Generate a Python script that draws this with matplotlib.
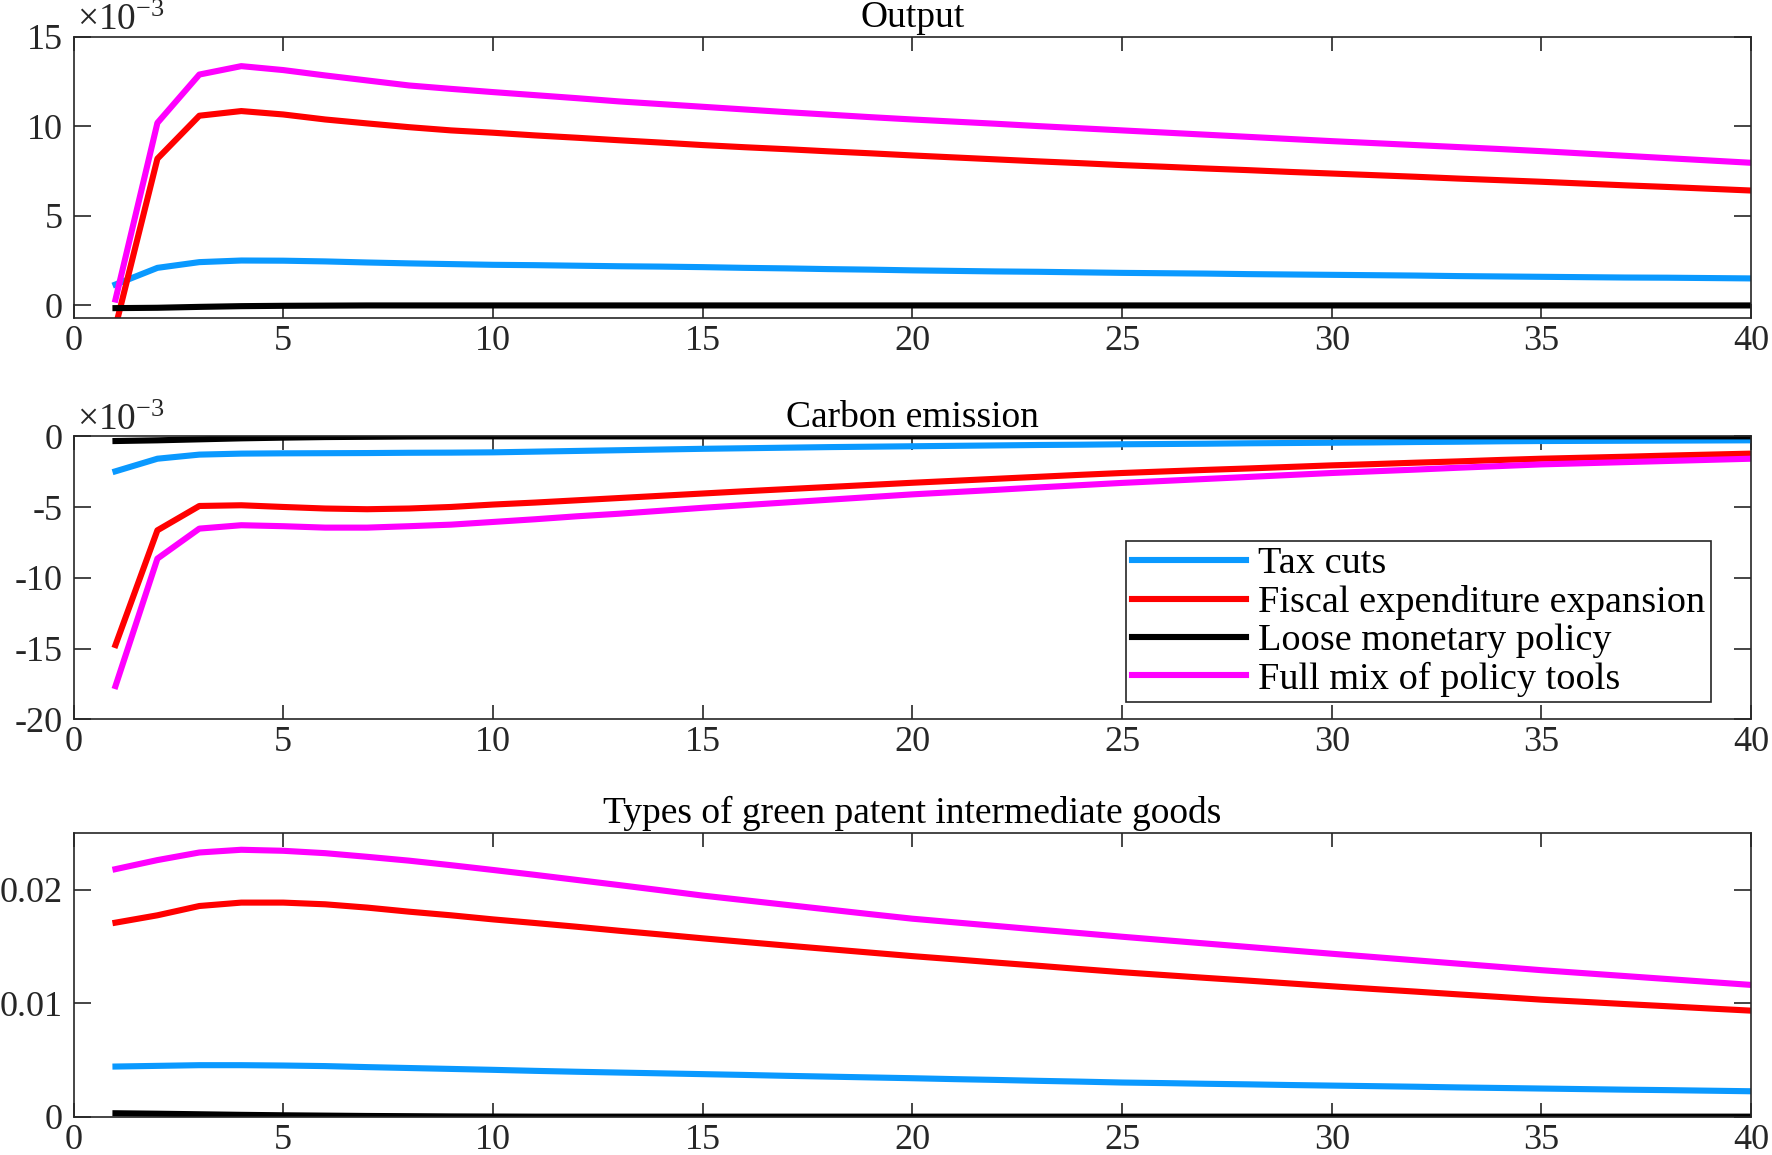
import matplotlib
matplotlib.use("Agg")
import matplotlib.pyplot as plt
import numpy as np

plt.rcParams["font.family"] = ["Liberation Serif", "DejaVu Serif"]
plt.rcParams["mathtext.fontset"] = "custom"
plt.rcParams["mathtext.rm"] = "Liberation Serif"
plt.rcParams["axes.unicode_minus"] = False

periods = list(range(1, 41))
labels = ["Tax cuts", "Fiscal expenditure expansion", "Loose monetary policy", "Full mix of policy tools"]
colors = ["#0A99FF", "#FF0000", "#000000", "#FF00FF"]

# Output (x 1e-3)
output_tax = [1.17, 2.1, 2.42, 2.51, 2.5, 2.46, 2.4, 2.35, 2.31, 2.27, 2.25, 2.22, 2.19, 2.17, 2.14,
              2.1, 2.07, 2.03, 2.0, 1.96, 1.93, 1.9, 1.88, 1.85, 1.82, 1.8, 1.78, 1.75, 1.73, 1.71,
              1.69, 1.67, 1.64, 1.62, 1.6, 1.58, 1.56, 1.55, 1.53, 1.51]
output_fiscal = [-1.2, 8.2, 10.6, 10.86, 10.67, 10.39, 10.17, 9.96, 9.78, 9.65, 9.5, 9.37, 9.23, 9.1, 8.96,
                 8.84, 8.73, 8.61, 8.5, 8.38, 8.27, 8.16, 8.05, 7.95, 7.84, 7.75, 7.65, 7.56, 7.46, 7.37,
                 7.28, 7.19, 7.09, 7.0, 6.91, 6.81, 6.71, 6.62, 6.52, 6.42]
output_money = [-0.15, -0.13, -0.08, -0.04, -0.02, -0.01, 0.0, 0.0, 0.0, 0.0, 0.0, 0.0, 0.0, 0.0, 0.0,
                0.0, 0.0, 0.0, 0.0, 0.0, 0.0, 0.0, 0.0, 0.0, 0.0, 0.0, 0.0, 0.0, 0.0, 0.0,
                0.0, 0.0, 0.0, 0.0, 0.0, 0.0, 0.0, 0.0, 0.0, 0.0]
output_mix = [0.33, 10.2, 12.9, 13.37, 13.15, 12.85, 12.57, 12.29, 12.1, 11.92, 11.75, 11.58, 11.4, 11.25, 11.1,
              10.95, 10.8, 10.66, 10.52, 10.39, 10.27, 10.15, 10.02, 9.9, 9.78, 9.66, 9.54, 9.42, 9.3, 9.18,
              9.07, 8.96, 8.85, 8.74, 8.62, 8.49, 8.36, 8.23, 8.1, 7.97]

# Carbon emission (x 1e-3)
carbon_tax = [-2.47, -1.58, -1.29, -1.22, -1.2, -1.19, -1.18, -1.16, -1.15, -1.13, -1.08, -1.03, -0.98, -0.93, -0.88,
              -0.84, -0.8, -0.76, -0.73, -0.7, -0.67, -0.64, -0.61, -0.59, -0.56, -0.54, -0.52, -0.49, -0.47, -0.45,
              -0.43, -0.4, -0.38, -0.35, -0.33, -0.32, -0.31, -0.3, -0.29, -0.28]
carbon_fiscal = [-14.75, -6.64, -4.92, -4.87, -4.99, -5.1, -5.15, -5.1, -4.99, -4.82, -4.68, -4.52, -4.36, -4.2, -4.04,
                 -3.88, -3.73, -3.58, -3.43, -3.28, -3.14, -3.0, -2.86, -2.72, -2.59, -2.48, -2.37, -2.27, -2.16, -2.05,
                 -1.96, -1.86, -1.77, -1.67, -1.58, -1.51, -1.44, -1.36, -1.29, -1.22]
carbon_money = [-0.33, -0.28, -0.21, -0.14, -0.09, -0.05, -0.03, -0.01, 0.0, 0.0, 0.0, 0.0, 0.0, 0.0, 0.0,
                0.0, 0.0, 0.0, 0.0, 0.0, 0.0, 0.0, 0.0, 0.0, 0.0, 0.0, 0.0, 0.0, 0.0, 0.0,
                0.0, 0.0, 0.0, 0.0, 0.0, 0.0, 0.0, 0.0, 0.0, 0.0]
carbon_mix = [-17.65, -8.64, -6.52, -6.28, -6.35, -6.45, -6.45, -6.35, -6.24, -6.05, -5.86, -5.65, -5.47, -5.26, -5.05,
              -4.86, -4.67, -4.48, -4.29, -4.1, -3.94, -3.78, -3.61, -3.45, -3.29, -3.15, -3.01, -2.87, -2.73, -2.59,
              -2.47, -2.35, -2.22, -2.1, -1.98, -1.9, -1.82, -1.74, -1.66, -1.58]

# Types of green patent intermediate goods
patent_tax = [0.00442, 0.00448, 0.00454, 0.00454, 0.00451, 0.00446, 0.00437, 0.00429, 0.00421, 0.00413,
              0.00404, 0.00396, 0.00389, 0.00382, 0.00375, 0.00368, 0.0036, 0.00353, 0.00346, 0.00339,
              0.00331, 0.00324, 0.00316, 0.00309, 0.00301, 0.00296, 0.0029, 0.00285, 0.00279, 0.00274,
              0.00269, 0.00264, 0.00258, 0.00253, 0.00248, 0.00243, 0.00238, 0.00234, 0.00229, 0.00224]
patent_fiscal = [0.01711, 0.01776, 0.01858, 0.01888, 0.01888, 0.01873, 0.01844, 0.01808, 0.01776, 0.0174,
                 0.01708, 0.01675, 0.0164, 0.01607, 0.01573, 0.01541, 0.01509, 0.01478, 0.01447, 0.01416,
                 0.01388, 0.01359, 0.01331, 0.01302, 0.01274, 0.01249, 0.01224, 0.012, 0.01175, 0.0115,
                 0.01126, 0.01103, 0.01079, 0.01056, 0.01032, 0.01013, 0.00993, 0.00974, 0.00954, 0.00935]
patent_money = [0.0003, 0.00026, 0.00021, 0.00016, 0.00012, 0.00009, 0.00006, 0.00004, 0.00002, 0.00001,
                0.0, 0.0, 0.0, 0.0, 0.0, 0.0, 0.0, 0.0, 0.0, 0.0,
                0.0, 0.0, 0.0, 0.0, 0.0, 0.0, 0.0, 0.0, 0.0, 0.0,
                0.0, 0.0, 0.0, 0.0, 0.0, 0.0, 0.0, 0.0, 0.0, 0.0]
patent_mix = [0.02183, 0.02263, 0.0233, 0.02354, 0.02345, 0.02324, 0.02292, 0.02258, 0.02218, 0.02176,
              0.02133, 0.02088, 0.02043, 0.01997, 0.0195, 0.01909, 0.01868, 0.01827, 0.01786, 0.01746,
              0.01714, 0.01682, 0.0165, 0.01619, 0.01587, 0.01557, 0.01527, 0.01497, 0.01467, 0.01437,
              0.01408, 0.01379, 0.0135, 0.01321, 0.01292, 0.01266, 0.0124, 0.01214, 0.01188, 0.01162]

frame_color = "#262626"
tick_fs = 26
title_fs = 27

fig = plt.figure(figsize=(17.72, 11.55), dpi=100)
ax1 = fig.add_axes([0.0415, 0.7247, 0.9467, 0.2433])
ax2 = fig.add_axes([0.0415, 0.3772, 0.9467, 0.2450])
ax3 = fig.add_axes([0.0415, 0.0332, 0.9467, 0.2454])

panels = [
    (ax1, "Output", [output_tax, output_fiscal, output_money, output_mix], (-0.7, 15), [0, 5, 10, 15], None),
    (ax2, "Carbon emission", [carbon_tax, carbon_fiscal, carbon_money, carbon_mix], (-20, 0), [-20, -15, -10, -5, 0], None),
    (ax3, "Types of green patent intermediate goods", [patent_tax, patent_fiscal, patent_money, patent_mix],
     (0, 0.025), [0, 0.01, 0.02], ["0", "0.01", "0.02"]),
]

for ax, title, series, ylim, yticks, yticklabels in panels:
    for vals, lab, col in zip(series, labels, colors):
        ax.plot(periods, vals, color=col, lw=4.4, label=lab)
    ax.set_xlim(0, 40)
    ax.set_ylim(*ylim)
    ax.set_xticks(np.arange(0, 41, 5))
    ax.set_yticks(yticks)
    if yticklabels:
        ax.set_yticklabels(yticklabels)
    ax.set_title(title, fontsize=title_fs, pad=7, color="black")
    for sp in ax.spines.values():
        sp.set_color(frame_color)
        sp.set_linewidth(1.2)
    ax.tick_params(axis="both", direction="in", top=True, right=True, labelsize=tick_fs,
                   color=frame_color, labelcolor=frame_color, width=1.2)
    ax.tick_params(axis="x", length=10, pad=5)
    ax.tick_params(axis="y", length=12, pad=8)

# exponent label above the top left corner
for ax in (ax1, ax2):
    ax.text(0.002, 0.995, r"$\times\mathregular{10^{-3}}$", transform=ax.transAxes,
            fontsize=27, color=frame_color, ha="left", va="bottom")

leg = ax2.legend(loc="lower right", bbox_to_anchor=(0.976, 0.06), fontsize=27.5,
                 frameon=True, fancybox=False, framealpha=1, edgecolor=frame_color,
                 handlelength=3.0, handletextpad=0.3, labelspacing=0.09,
                 borderpad=0.15, borderaxespad=0)
leg.get_frame().set_linewidth(1.2)

fig.savefig("out.png", dpi=100)
